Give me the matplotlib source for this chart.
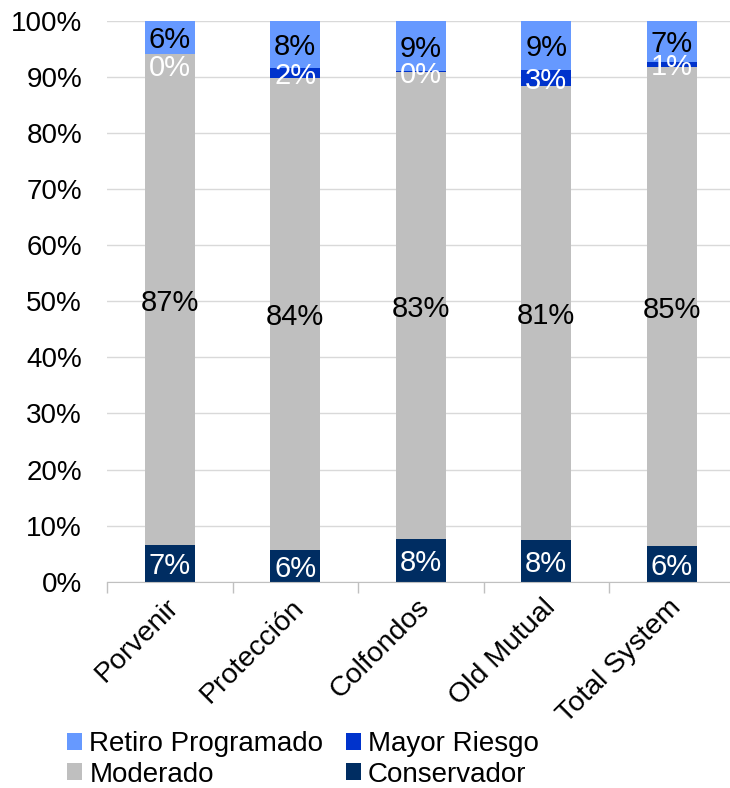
import matplotlib
matplotlib.use('Agg')
import matplotlib.pyplot as plt
import matplotlib.transforms as mtransforms
import numpy as np

plt.rcParams['font.family'] = ['Liberation Sans', 'DejaVu Sans']

# fondos y composicion (%)
fondos = ['Porvenir', 'Protección', 'Colfondos', 'Old Mutual', 'Total System']
conservador = [6.6, 5.6, 7.6, 7.5, 6.3]
moderado = [87.4, 84.1, 83.2, 80.9, 85.4]
mayor_riesgo = [0.1, 1.9, 0.2, 2.9, 1.0]
retiro = [5.9, 8.4, 9.0, 8.7, 7.3]

lbl_conservador = ['7%', '6%', '8%', '8%', '6%']
lbl_moderado = ['87%', '84%', '83%', '81%', '85%']
lbl_mayor = ['0%', '2%', '0%', '3%', '1%']
lbl_retiro = ['6%', '8%', '9%', '9%', '7%']

y_ticks = [0, 10, 20, 30, 40, 50, 60, 70, 80, 90, 100]

c_cons = '#002D62'
c_mod = '#BFBFBF'
c_mayor = '#0033CC'
c_ret = '#6699FF'

fig = plt.figure(figsize=(7.30, 7.88), dpi=100)
ax = fig.add_axes([107/730, 1 - 581.7/788, 627.5/730, (581.7 - 20.7)/788])

x = np.arange(len(fondos))
w = 0.4
b1 = ax.bar(x, conservador, w, color=c_cons, label='Conservador', zorder=3)
bot = np.array(conservador)
b2 = ax.bar(x, moderado, w, bottom=bot, color=c_mod, label='Moderado', zorder=3)
bot = bot + np.array(moderado)
b3 = ax.bar(x, mayor_riesgo, w, bottom=bot, color=c_mayor, label='Mayor Riesgo', zorder=3)
bot = bot + np.array(mayor_riesgo)
b4 = ax.bar(x, retiro, w, bottom=bot, color=c_ret, label='Retiro Programado', zorder=3)

texts = []
texts += ax.bar_label(b1, labels=lbl_conservador, label_type='center', color='white', fontsize=21)
texts += ax.bar_label(b2, labels=lbl_moderado, label_type='center', color='black', fontsize=21)
t_mayor = ax.bar_label(b3, labels=lbl_mayor, label_type='center', color='white', fontsize=21)
texts += t_mayor
texts += ax.bar_label(b4, labels=lbl_retiro, label_type='center', color='black', fontsize=21)
for t in texts:
    t.set_va('center_baseline')
# Porvenir 0% label sits a little lower in the original
t_mayor[0].xyann = (0, -8)

ax.set_xlim(-0.5, len(fondos) - 0.5)
ax.set_ylim(0, 100)
ax.set_yticks(y_ticks)
ax.set_yticklabels(['%d%%' % v for v in y_ticks], fontsize=20)
ax.tick_params(axis='y', length=0, pad=18)
ax.grid(axis='y', color='#d9d9d9', lw=1, zorder=0)

ax.set_xticks(x)
ax.set_xticklabels(fondos, fontsize=20.5, rotation=45, ha='right', rotation_mode='anchor')
ax.tick_params(axis='x', which='major', length=0, pad=9)
ax.set_xticks(np.arange(-0.5, len(fondos)), minor=True)
ax.tick_params(axis='x', which='minor', length=8, color='#c0c0c0', width=1)
offset = mtransforms.ScaledTranslation(-4/100, 0, fig.dpi_scale_trans)
for lbl in ax.get_xticklabels():
    lbl.set_transform(lbl.get_transform() + offset)

for s in ['left', 'right', 'top']:
    ax.spines[s].set_visible(False)
ax.spines['bottom'].set_color('#c0c0c0')
ax.spines['bottom'].set_zorder(4)

handles = [b4, b2, b3, b1]
labels = ['Retiro Programado', 'Moderado', 'Mayor Riesgo', 'Conservador']
fig.legend(handles, labels, ncol=2, loc='upper left', bbox_to_anchor=(56/730, 1 - 720/788),
           frameon=False, fontsize=20, handlelength=0.55, handleheight=0.55,
           handletextpad=0.25, columnspacing=0.8, labelspacing=0.16, borderaxespad=0)

plt.savefig('out.png', dpi=100)
